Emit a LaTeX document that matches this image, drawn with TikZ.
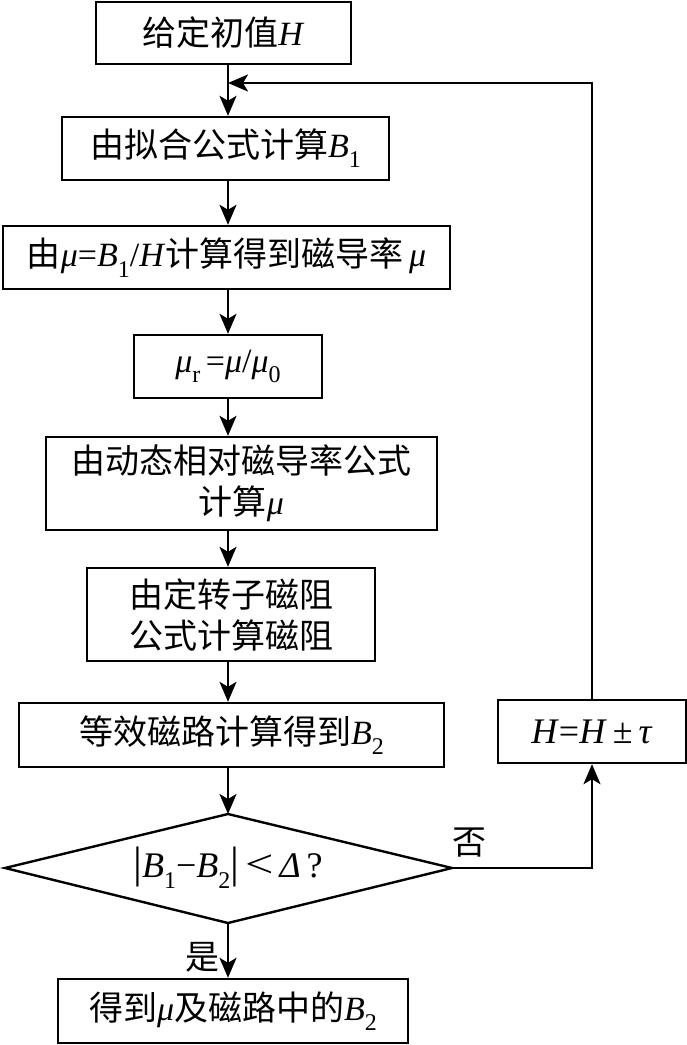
\documentclass[tikz,border=0pt]{standalone}
\usepackage{fontspec}
\usepackage{graphicx}
\setmainfont{Liberation Serif}
\newfontfamily\cjk{Noto Sans CJK SC}
\usetikzlibrary{arrows.meta}
\newcommand\mysub[1]{\raisebox{-0.3em}{\fontsize{24pt}{24pt}\selectfont #1}}
\newcommand\zh[1]{{\cjk #1}}
\begin{document}
\begin{tikzpicture}[x=1pt,y=-1pt,
  box/.style={draw,line width=2.4pt,inner sep=0pt,font=\fontsize{34pt}{41pt}\selectfont,align=center},
  arr/.style={line width=2.4pt,-{Stealth[length=20pt,width=17pt,inset=5pt]}},
  lbl/.style={font=\cjk\fontsize{34pt}{34pt}\selectfont,inner sep=0pt}]
\useasboundingbox (0,0) rectangle (687,1045);
\coordinate (sp) at (228,0);
\node[box,minimum width=255,minimum height=62] (b1) at (223.5,33) {\zh{给定初值}\textit{H}};
\node[box,minimum width=327,minimum height=63] (b2) at (225.5,148.5) {\zh{由拟合公式计算}\textit{B}\mysub{1}};
\node[box,minimum width=447,minimum height=63] (b3) at (226.5,257.5) {\zh{由}\textit{μ}=\textit{B}\mysub{1}/\textit{H}\zh{计算得到磁导率}\,\textit{μ}};
\node[box,minimum width=188,minimum height=63] (b4) at (228,366.5) {\textit{μ}\mysub{r}\,=\textit{μ}/\textit{μ}\mysub{0}};
\node[box,minimum width=391,minimum height=93] (b5) at (241.5,483.5) {\zh{由动态相对磁导率公式}\\\zh{计算}\textit{μ}};
\node[box,minimum width=288,minimum height=93] (b6) at (231,614.5) {\zh{由定转子磁阻}\\\zh{公式计算磁阻}};
\node[box,minimum width=425,minimum height=64] (b7) at (231.5,735) {\zh{等效磁路计算得到}\textit{B}\mysub{2}};
% decision diamond
\coordinate (dt) at (228,814);
\coordinate (db) at (228,923);
\coordinate (dl) at (5,868);
\coordinate (dr) at (452,868);
\draw[line width=2.4pt,line join=miter] (dt) -- (dr) -- (db) -- (dl) -- cycle;
\node[font=\fontsize{36pt}{36pt}\selectfont,inner sep=0pt] (dia) at (228,868) {{\fontsize{44pt}{44pt}\selectfont|}\textit{B}\mysub{1}−\textit{B}\mysub{2}{\fontsize{44pt}{44pt}\selectfont|}\,\scalebox{1.4}[1.1]{<}\,\textit{Δ}\,?};
\node[box,minimum width=350,minimum height=64] (b9) at (233,1011) {\zh{得到}\textit{μ}\zh{及磁路中的}\textit{B}\mysub{2}};
\node[box,minimum width=188,minimum height=63,font=\fontsize{36pt}{36pt}\selectfont] (b10) at (592,731.5) {\textit{H}=\textit{H}\,±\,\textit{τ}};
\node[lbl] (no) at (469,843) {否};
\node[lbl] (yes) at (202,957) {是};
\coordinate (m) at (228,83);
\draw[arr] (b1.south -| sp) -- (b2.north -| sp);
\draw[arr] (b2.south -| sp) -- (b3.north -| sp);
\draw[arr] (b3.south -| sp) -- (b4.north -| sp);
\draw[arr] (b4.south -| sp) -- (b5.north -| sp);
\draw[arr] (b5.south -| sp) -- (b6.north -| sp);
\draw[arr] (b6.south -| sp) -- (b7.north -| sp);
\draw[arr] (b7.south -| sp) -- (dt);
\draw[arr] (db) -- (b9.north -| sp);
\draw[arr] (dr) -| (b10.south);
\draw[arr] (b10.north) |- (m);
\end{tikzpicture}
\end{document}
